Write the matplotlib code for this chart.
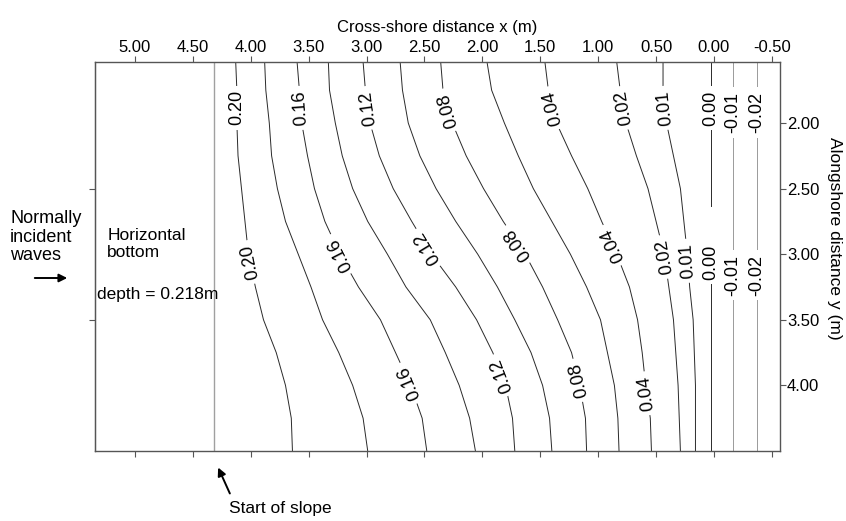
import numpy as np
import matplotlib.pyplot as plt

plt.rcParams['font.family'] = ['Liberation Sans', 'DejaVu Sans']

# alongshore stations (m) at which each depth contour was traced
y_rows = [1.535, 1.75, 2.0, 2.25, 2.5, 2.75, 3.0, 3.25, 3.5, 3.75, 4.0, 4.25, 4.5]

# cross-shore position (m) of each depth contour at those stations
x_h020 = [4.13, 4.12, 4.12, 4.11, 4.08, 4.05, 4.02, 3.96, 3.89, 3.78, 3.70, 3.65, 3.64]
x_h018 = [3.88, 3.87, 3.84, 3.82, 3.77, 3.70, 3.59, 3.48, 3.38, 3.24, 3.12, 3.03, 2.99]
x_h016 = [3.60, 3.58, 3.56, 3.51, 3.45, 3.36, 3.23, 3.07, 2.88, 2.75, 2.62, 2.52, 2.48]
x_h014 = [3.33, 3.32, 3.27, 3.21, 3.12, 2.99, 2.82, 2.66, 2.45, 2.32, 2.20, 2.11, 2.06]
x_h012 = [3.03, 3.01, 2.97, 2.89, 2.77, 2.61, 2.44, 2.23, 2.05, 1.91, 1.80, 1.74, 1.72]
x_h010 = [2.71, 2.69, 2.64, 2.54, 2.40, 2.23, 2.04, 1.87, 1.72, 1.58, 1.48, 1.42, 1.40]
x_h008 = [2.36, 2.34, 2.26, 2.14, 1.99, 1.82, 1.63, 1.48, 1.35, 1.23, 1.16, 1.11, 1.10]
x_h006 = [1.96, 1.92, 1.81, 1.69, 1.56, 1.40, 1.24, 1.10, 0.98, 0.92, 0.86, 0.83, 0.82]
x_h004 = [1.46, 1.43, 1.36, 1.23, 1.09, 0.97, 0.84, 0.73, 0.66, 0.62, 0.59, 0.55, 0.54]
x_h002 = [0.84, 0.81, 0.76, 0.67, 0.57, 0.50, 0.43, 0.39, 0.35, 0.33, 0.31, 0.30, 0.29]
x_h001 = [0.44, 0.44, 0.41, 0.35, 0.29, 0.26, 0.23, 0.21, 0.18, 0.17, 0.16, 0.16, 0.16]
x_hm001 = [-0.16, -0.16, -0.16, -0.16, -0.16, -0.16, -0.16, -0.16, -0.16, -0.16, -0.16, -0.16, -0.16]
x_hm002 = [-0.37, -0.37, -0.37, -0.37, -0.37, -0.37, -0.37, -0.37, -0.37, -0.37, -0.37, -0.37, -0.37]

# the 0.00 contour is broken between y = 2.63 and 2.93
y_h000 = [1.535, 2.63, np.nan, 2.93, 4.5]
x_h000 = [0.03, 0.03, np.nan, 0.03, 0.03]

# where the flat bottom ends
x_slope_start = 4.32

# (level, x positions, y positions, y of the inline labels)
contours = [
    (0.20, x_h020, y_rows, [1.885, 3.06]),
    (0.18, x_h018, y_rows, []),
    (0.16, x_h016, y_rows, [1.885, 3.0, 3.98]),
    (0.14, x_h014, y_rows, []),
    (0.12, x_h012, y_rows, [1.885, 2.95, 3.92]),
    (0.10, x_h010, y_rows, []),
    (0.08, x_h008, y_rows, [1.90, 2.92, 3.96]),
    (0.06, x_h006, y_rows, []),
    (0.04, x_h004, y_rows, [1.885, 2.93, 4.06]),
    (0.02, x_h002, y_rows, [1.885, 3.02]),
    (0.01, x_h001, y_rows, [1.885, 3.05]),
    (0.00, x_h000, y_h000, [1.885, 3.06]),
    (-0.01, x_hm001, y_rows, [1.92, 3.16]),
    (-0.02, x_hm002, y_rows, [1.92, 3.16]),
]

x_ticks = [5.0, 4.5, 4.0, 3.5, 3.0, 2.5, 2.0, 1.5, 1.0, 0.5, 0.0, -0.5]
y_ticks = [2.0, 2.5, 3.0, 3.5, 4.0]

W, H = 846, 521
fig = plt.figure(figsize=(W / 100, H / 100), dpi=100)
ax = fig.add_axes([95 / W, 1 - 451 / H, (780 - 95) / W, (451 - 62) / H])
ax.set_xlim(5.345, -0.57)
ax.set_ylim(4.5, 1.535)

frame = '#555555'
for sp in ax.spines.values():
    sp.set_color(frame)
    sp.set_linewidth(1.0)

ax.axvline(x_slope_start, color='#a0a0a0', lw=1.0)


def label_angle(xs, ys, y0, dy=0.06):
    xs = np.asarray(xs, float)
    ys = np.asarray(ys, float)
    ok = ~np.isnan(ys)
    xa = np.interp(y0 - dy, ys[ok], xs[ok])
    xb = np.interp(y0 + dy, ys[ok], xs[ok])
    p_top = ax.transData.transform((xa, y0 - dy))
    p_bot = ax.transData.transform((xb, y0 + dy))
    return np.degrees(np.arctan2(p_top[1] - p_bot[1], p_top[0] - p_bot[0]))


for level, xs, ys, lab_y in contours:
    col = '#9a9a9a' if level < 0 else '#2a2a2a'
    ax.plot(xs, ys, color=col, lw=0.7, zorder=2, solid_joinstyle='round')
    xs_a = np.asarray(xs, float)
    ys_a = np.asarray(ys, float)
    ok = ~np.isnan(ys_a)
    for yl in lab_y:
        xl = np.interp(yl, ys_a[ok], xs_a[ok])
        ang = label_angle(xs, ys, yl)
        ax.text(xl, yl, '%.2f' % level, fontsize=13, rotation=ang,
                rotation_mode='anchor', ha='center', va='center', zorder=3,
                bbox=dict(boxstyle='square,pad=0.25', fc='white', ec='none'))

# axes: cross-shore on top, alongshore on the right
ax.set_xticks(x_ticks)
ax.set_xticklabels(['%.2f' % v for v in x_ticks])
ax.set_yticks(y_ticks)
ax.set_yticklabels(['%.2f' % v for v in y_ticks])
ax.tick_params(axis='x', bottom=True, top=True, labelbottom=False, labeltop=True,
               direction='out', length=4, width=0.8, color=frame, labelsize=12, pad=1)
ax.tick_params(axis='y', left=False, right=True, labelleft=False, labelright=True,
               direction='out', length=4, width=0.8, color=frame, labelsize=12, pad=1)
ax.xaxis.set_label_position('top')
ax.set_xlabel('Cross-shore distance x (m)', fontsize=12, labelpad=6)
ax.yaxis.set_label_position('right')
ax.set_ylabel('Alongshore distance y (m)', fontsize=12.5, rotation=-90, va='center')
ax.yaxis.set_label_coords(1.079, 0.548)

left = ax.secondary_yaxis('left')
left.set_yticks([2.5, 3.5])
left.set_yticklabels([])
left.tick_params(length=4, width=0.8, color=frame)
left.spines['left'].set_color(frame)

ax.text(5.24, 2.92, 'Horizontal\nbottom', fontsize=12.5, ha='left', va='center',
        linespacing=1.15)
ax.text(5.33, 3.31, 'depth = 0.218m', fontsize=12.5, ha='left', va='center')


def fpos(px, py):
    return (px / W, 1 - py / H)


fig.text(*fpos(10, 237), 'Normally\nincident\nwaves', fontsize=13, ha='left',
         va='center', linespacing=1.15)
fig.add_artist(plt.Annotation('', xy=fpos(70, 278), xytext=fpos(32, 278),
                              xycoords='figure fraction', textcoords='figure fraction',
                              arrowprops=dict(arrowstyle='-|>', color='black', lw=1.4,
                                              mutation_scale=12)))
fig.add_artist(plt.Annotation('', xy=fpos(217, 465), xytext=fpos(231, 496),
                              xycoords='figure fraction', textcoords='figure fraction',
                              arrowprops=dict(arrowstyle='-|>', color='black', lw=1.4,
                                              mutation_scale=12)))
fig.text(*fpos(229, 508), 'Start of slope', fontsize=12.5, ha='left', va='center')

fig.savefig('out.png', dpi=100, facecolor='white')
